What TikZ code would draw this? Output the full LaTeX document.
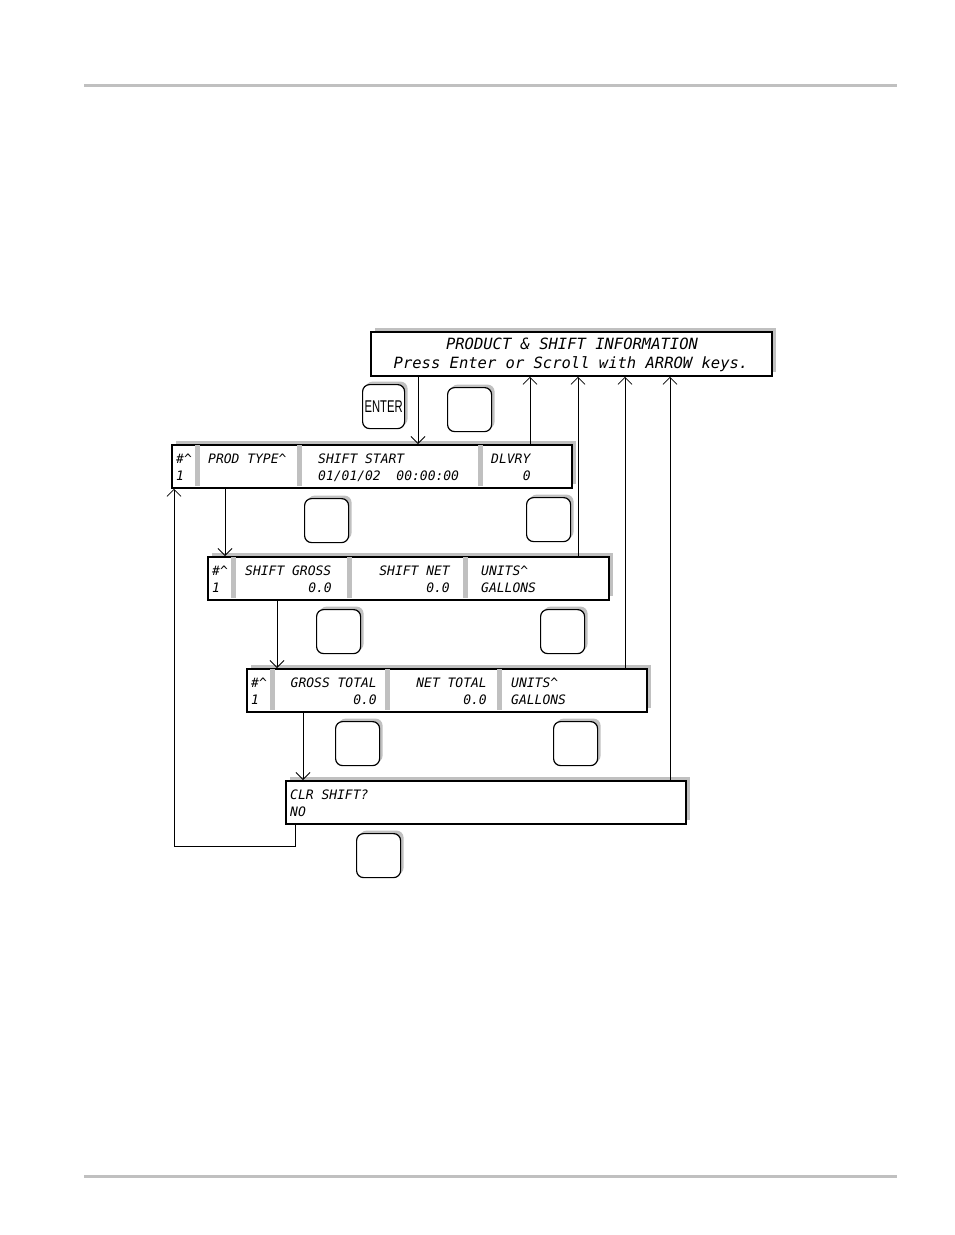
\documentclass[tikz,border=0pt]{standalone}
\usepackage{fontspec}
\setmonofont{DejaVu Sans Mono}
\newfontfamily\keyfont[FakeStretch=0.66]{Liberation Sans}
\usetikzlibrary{arrows.meta,shadows}
\definecolor{shadegray}{RGB}{192,192,192}

\begin{document}
\begin{tikzpicture}[x=1pt,y=-1pt,
    screen/.style={draw=black, line width=1.8pt, fill=white, anchor=north west,
      inner sep=0pt, minimum width=400pt, minimum height=43pt,
      general shadow={fill=shadegray, shadow xshift=4pt, shadow yshift=4pt}},
    key/.style={draw=black, line width=1.2pt, fill=white, rounded corners=7pt,
      anchor=north west, inner sep=0pt, minimum width=44pt, minimum height=44pt,
      general shadow={fill=shadegray, shadow xshift=3pt, shadow yshift=3pt}},
    lcd/.style={font=\ttfamily\itshape\fontsize{13}{15}\selectfont, inner sep=0pt, anchor=base west},
    lcdbig/.style={font=\ttfamily\itshape\fontsize{15.5}{18}\selectfont, inner sep=0pt, anchor=base},
    bar/.style={fill=shadegray},
    flow/.style={line width=0.8pt, -{Straight Barb[length=7pt,width=14pt]}},
    rule/.style={draw=shadegray, line width=3pt}]
  \useasboundingbox (0,0) rectangle (954,1235);
  % page rules
  \draw [rule] (84,85) -- (897,85);
  \draw [rule] (84,1176) -- (897,1176);
  % screens
  \node [screen, minimum width=401pt, minimum height=44pt] (info) at (370,331) {};
  \node [screen] (prod) at (171,444) {};
  \node [screen, minimum width=401pt] (shift) at (207,556) {};
  \node [screen] (total) at (246,668) {};
  \node [screen] (clear) at (285,780) {};
  \foreach \x/\y in {195/445, 297/445, 478/445, 231/557, 347/557, 463/557, 270/669, 385/669, 497/669}
    \fill [bar] (\x,\y) rectangle ++(5,41);
  % screen texts
  \node [lcdbig] (infotitle) at (572,349) {PRODUCT \& SHIFT INFORMATION};
  \node [lcdbig] (infohint) at (571,368) {Press Enter or Scroll with ARROW keys.};
  \node [lcd] (prodnum) at (176,463) {\#\textasciicircum};
  \node [lcd] (prodnumv) at (176,480) {1};
  \node [lcd] (prodtype) at (208,463) {PROD TYPE\textasciicircum};
  \node [lcd] (prodstart) at (318,463) {SHIFT START};
  \node [lcd] (prodstartv) at (318,480) {01/01/02~~00:00:00};
  \node [lcd] (proddlv) at (491,463) {DLVRY};
  \node [lcd, anchor=base east] (proddlvv) at (531,480) {0};
  \node [lcd] (shiftnum) at (212,575) {\#\textasciicircum};
  \node [lcd] (shiftnumv) at (212,592) {1};
  \node [lcd] (shiftgross) at (245,575) {SHIFT GROSS};
  \node [lcd, anchor=base east] (shiftgrossv) at (332,592) {0.0};
  \node [lcd, anchor=base east] (shiftnet) at (450,575) {SHIFT NET};
  \node [lcd, anchor=base east] (shiftnetv) at (450,592) {0.0};
  \node [lcd] (shiftunit) at (481,575) {UNITS\textasciicircum};
  \node [lcd] (shiftunitv) at (481,592) {GALLONS};
  \node [lcd] (totalnum) at (251,687) {\#\textasciicircum};
  \node [lcd] (totalnumv) at (251,704) {1};
  \node [lcd, anchor=base east] (totalgross) at (377,687) {GROSS TOTAL};
  \node [lcd, anchor=base east] (totalgrossv) at (377,704) {0.0};
  \node [lcd, anchor=base east] (totalnet) at (487,687) {NET TOTAL};
  \node [lcd, anchor=base east] (totalnetv) at (487,704) {0.0};
  \node [lcd] (totalunit) at (511,687) {UNITS\textasciicircum};
  \node [lcd] (totalunitv) at (511,704) {GALLONS};
  \node [lcd] (clearask) at (290,799) {CLR SHIFT?};
  \node [lcd] (clearans) at (290,816) {NO};
  % keys
  \node [key, minimum width=42pt, font=\keyfont\fontsize{17}{19}\selectfont] (enter) at (362,384) {ENTER};
  \node [key] (infokey) at (447,387) {};
  \node [key] (prodkeya) at (304,498) {};
  \node [key] (prodkeyb) at (526,497) {};
  \node [key] (shiftkeya) at (316,609) {};
  \node [key] (shiftkeyb) at (540,609) {};
  \node [key] (totalkeya) at (335,721) {};
  \node [key] (totalkeyb) at (553,721) {};
  \node [key] (clearkey) at (356,833) {};
  % lanes
  \coordinate (laneenter) at (418,0);
  \coordinate (laneback) at (530,0);
  \coordinate (laneshift) at (578,0);
  \coordinate (lanetotal) at (625,0);
  \coordinate (laneclear) at (670,0);
  \coordinate (laneprod) at (225,0);
  \coordinate (lanegross) at (277,0);
  \coordinate (lanesum) at (303,0);
  \coordinate (laneloop) at (295,0);
  \coordinate (loopcorner) at (174,846);
  % flow
  \draw [flow] (info.south -| laneenter) -- (prod.north -| laneenter);
  \draw [flow] (prod.north -| laneback) -- (info.south -| laneback);
  \draw [flow] (shift.north -| laneshift) -- (info.south -| laneshift);
  \draw [flow] (total.north -| lanetotal) -- (info.south -| lanetotal);
  \draw [flow] (clear.north -| laneclear) -- (info.south -| laneclear);
  \draw [flow] (prod.south -| laneprod) -- (shift.north -| laneprod);
  \draw [flow] (shift.south -| lanegross) -- (total.north -| lanegross);
  \draw [flow] (total.south -| lanesum) -- (clear.north -| lanesum);
  \draw [flow] (clear.south -| laneloop) |- (loopcorner) -- (prod.south -| loopcorner);
\end{tikzpicture}
\end{document}
